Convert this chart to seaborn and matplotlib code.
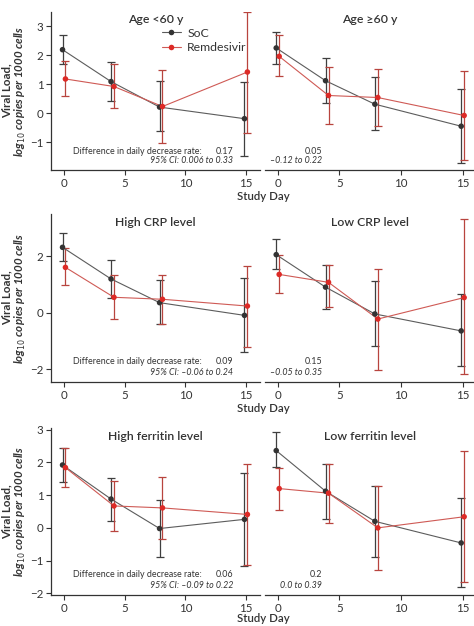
import pandas as pd
import matplotlib.pyplot as plt
import seaborn as sns
from matplotlib.lines import Line2D

sns.set_style('ticks')
plt.rcParams['font.family'] = ['Lato', 'DejaVu Sans']

# --- Data ---
days = [0, 4, 8, 15]
arms = ['SoC', 'Remdesivir']
titles = ['Age <60 y', 'Age ≥60 y', 'High CRP level', 'Low CRP level',
          'High ferritin level', 'Low ferritin level']

soc_mean = [[2.2, 1.1, 0.22, -0.18], [2.26, 1.13, 0.32, -0.44],
            [2.32, 1.2, 0.36, -0.09], [2.06, 0.91, -0.04, -0.64],
            [1.92, 0.88, -0.02, 0.26], [2.36, 1.12, 0.2, -0.46]]
soc_lo = [[1.72, 0.44, -0.61, -1.46], [1.72, 0.37, -0.58, -1.72],
          [1.82, 0.53, -0.39, -1.38], [1.56, 0.15, -1.19, -1.88],
          [1.41, 0.2, -0.9, -1.16], [1.86, 0.28, -0.89, -1.81]]
soc_hi = [[2.72, 1.77, 1.12, 1.09], [2.81, 1.9, 1.25, 0.85],
          [2.81, 1.86, 1.16, 1.24], [2.6, 1.68, 1.12, 0.66],
          [2.45, 1.53, 0.85, 1.69], [2.94, 1.96, 1.28, 0.9]]
rem_mean = [[1.19, 0.93, 0.24, 1.43], [1.97, 0.62, 0.55, -0.07],
            [1.61, 0.55, 0.48, 0.24], [1.36, 1.08, -0.22, 0.54],
            [1.84, 0.67, 0.61, 0.41], [1.2, 1.06, 0.0, 0.34]]
rem_lo = [[0.59, 0.19, -1.01, -0.66], [1.29, -0.35, -0.44, -1.6],
          [1.0, -0.22, -0.38, -1.2], [0.71, 0.21, -2.04, -2.18],
          [1.24, -0.11, -0.35, -1.14], [0.54, 0.16, -1.29, -1.65]]
rem_hi = [[1.81, 1.7, 1.49, 3.5], [2.7, 1.59, 1.54, 1.47],
          [2.29, 1.35, 1.35, 1.65], [2.06, 1.68, 1.56, 3.33],
          [2.43, 1.44, 1.56, 1.94], [1.84, 1.96, 1.28, 2.36]]

diff_rate = ['0.17', '0.05', '0.09', '0.15', '0.06', '0.2']
diff_ci = ['0.006 to 0.33', '\u20130.12 to 0.22', '\u20130.06 to 0.24',
           '\u20130.05 to 0.35', '\u20130.09 to 0.22', '0.0 to 0.39']

# --- Style ---
txt = '#333333'
line_pal = {'SoC': '#5c5c5c', 'Remdesivir': '#cf5a55'}
mark_pal = {'SoC': '#333333', 'Remdesivir': '#dd2a26'}
err_pal = {'SoC': '#3f3f3f', 'Remdesivir': '#b8443e'}
dodge = {'SoC': -0.12, 'Remdesivir': 0.12}

W, H = 474, 626
# row layout in pixels: (top, bottom, ylim, yticks, study-day offset)
rows = [(12, 170, (-1.95, 3.5), [-1, 0, 1, 2, 3], 27),
        (214, 382, (-2.45, 3.5), [-2, 0, 2], 26),
        (428, 595, (-2.05, 3.05), [-2, -1, 0, 1, 2, 3], 23)]
cols = [(51, 260, (-1.07, 16.16)), (265, 474, (-1.03, 15.92))]

fig = plt.figure(figsize=(W / 100, H / 100), dpi=100)

for i in range(6):
    r, c = divmod(i, 2)
    top, bot, ylim, yticks, sd_off = rows[r]
    left, right, xlim = cols[c]
    ax = fig.add_axes([left / W, 1 - bot / H, (right - left) / W, (bot - top) / H])

    df = pd.DataFrame({
        'day': days * 2,
        'arm': ['SoC'] * 4 + ['Remdesivir'] * 4,
        'vl': soc_mean[i] + rem_mean[i],
        'lo': soc_lo[i] + rem_lo[i],
        'hi': soc_hi[i] + rem_hi[i],
    })
    df['x'] = df['day'] + df['arm'].map(dodge)

    for arm in arms:
        d = df[df['arm'] == arm]
        ax.errorbar(d['x'], d['vl'], yerr=[d['vl'] - d['lo'], d['hi'] - d['vl']],
                    fmt='none', ecolor=err_pal[arm], elinewidth=0.9,
                    capsize=3.2, capthick=0.9, zorder=2)

    sns.lineplot(data=df, x='x', y='vl', hue='arm', palette=line_pal,
                 hue_order=arms, legend=False, lw=0.8, ax=ax, zorder=3)
    sns.scatterplot(data=df, x='x', y='vl', hue='arm', palette=mark_pal,
                    hue_order=arms, legend=False, s=16, edgecolor='none',
                    ax=ax, zorder=4)

    ax.set_xlim(*xlim)
    ax.set_ylim(*ylim)
    ax.set_xticks([0, 5, 10, 15])
    ax.set_xlabel('')
    ax.set_ylabel('')
    sns.despine(ax=ax, left=(c == 1))
    for s in ax.spines.values():
        s.set_color(txt)
        s.set_linewidth(0.9)
    ax.tick_params(colors=txt, labelsize=8.3, length=3.5, width=0.8, pad=2)
    if c == 0:
        ax.set_yticks(yticks)
    else:
        ax.set_yticks([])

    ax.text(0.5, 0.985, titles[i], transform=ax.transAxes, ha='center', va='top',
            fontsize=8.8, fontweight='semibold', color=txt)

    vx = 0.871 if c == 0 else 0.273
    if c == 0:
        ax.text(0.105, 0.12, 'Difference in daily decrease rate:', transform=ax.transAxes,
                ha='left', va='center', fontsize=6.4, color=txt)
        ci_label = '95% CI: ' + diff_ci[i]
    else:
        ci_label = diff_ci[i]
    ax.text(vx, 0.12, diff_rate[i], transform=ax.transAxes, ha='right', va='center',
            fontsize=6.4, color=txt)
    ax.text(vx, 0.057, ci_label, transform=ax.transAxes, ha='right', va='center',
            fontsize=6.4, color=txt, style='italic')

    if c == 0:
        ax.text(-0.21, 0.5, 'Viral Load,', transform=ax.transAxes, rotation=90,
                ha='center', va='center', fontsize=8.3, fontweight='bold', color=txt)
        ax.text(-0.148, 0.5, 'log$_{10}$ copies per 1000 cells', transform=ax.transAxes,
                rotation=90, ha='center', va='center', fontsize=8.3,
                fontweight='bold', style='italic', color=txt)
    if i == 0:
        handles = [Line2D([], [], color=line_pal[a], lw=0.8, marker='o', markersize=4,
                          markerfacecolor=mark_pal[a], markeredgewidth=0) for a in arms]
        ax.legend(handles, arms, loc='upper left', bbox_to_anchor=(0.5, 0.94),
                  frameon=False, fontsize=8.8, handlelength=1.6, handletextpad=0.5,
                  borderpad=0, labelspacing=0.3, labelcolor=txt)

    if c == 1:
        fig.text(263 / W, 1 - (bot + sd_off) / H, 'Study Day', ha='center', va='center',
                 fontsize=8.2, fontweight='semibold', color=txt)

fig.savefig('out.png', dpi=100)
